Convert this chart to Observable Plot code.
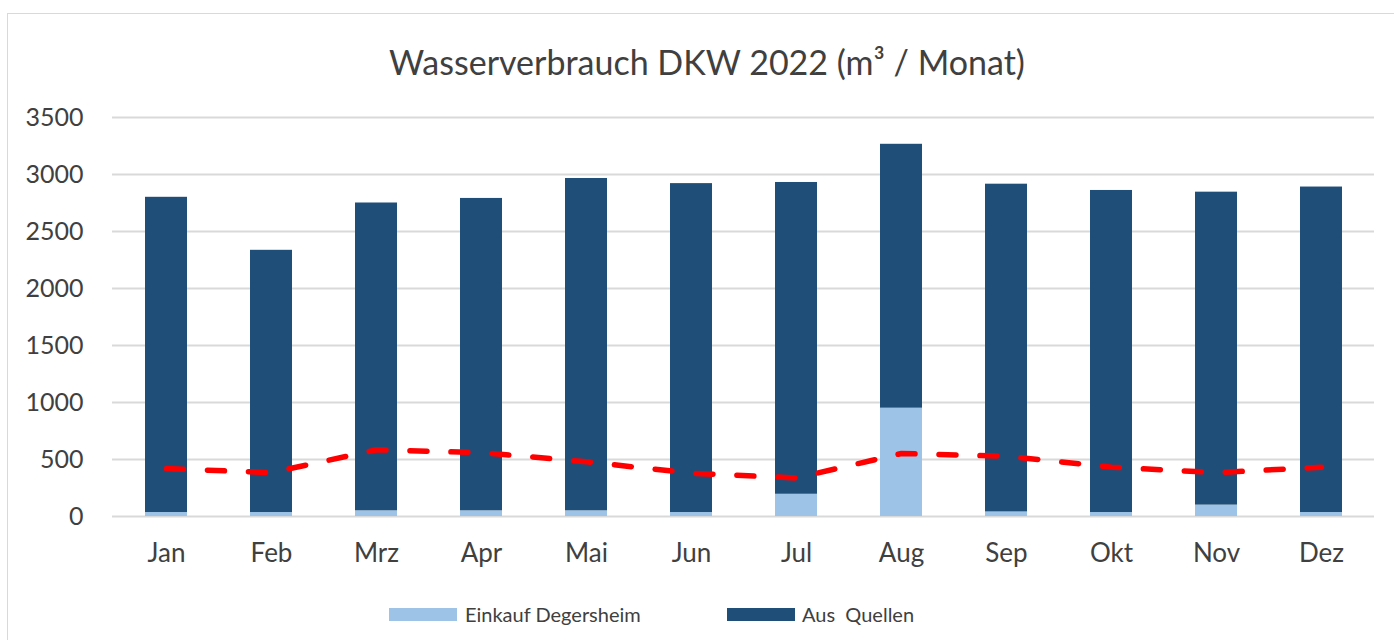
<!DOCTYPE html>
<html>
<head>
<meta charset="utf-8">
<script src="https://cdn.jsdelivr.net/npm/d3@7"></script>
<script src="https://cdn.jsdelivr.net/npm/@observablehq/plot@0.6"></script>
<style>
  html, body { margin: 0; padding: 0; background: #fff; }
  #wrap { position: relative; width: 1394px; height: 640px; overflow: hidden; font-family: Lato, "Open Sans", sans-serif; color: #404040; }
  #frame { position: absolute; left: 7px; top: 13px; width: 1400px; height: 700px; border: 1px solid #d9d9d9; box-sizing: border-box; }
  #title { position: absolute; left: 707px; top: 40px; transform: translateX(-50%); font-size: 34px; line-height: 44px; white-space: nowrap; color: #404040; }
  #chart { position: absolute; left: 0; top: 95px; }
  .leg { position: absolute; top: 602px; font-size: 20px; line-height: 24px; color: #404040; white-space: nowrap; }
  .sw { position: absolute; top: 608px; width: 68px; height: 13px; }
</style>
</head>
<body>
<div id="wrap">
  <div id="frame"></div>
  <div id="title">Wasserverbrauch DKW 2022 (m³ / Monat)</div>
  <div id="chart"></div>
  <div class="sw" style="left:389px;background:#9DC3E6"></div>
  <div class="leg" style="left:465px">Einkauf Degersheim</div>
  <div class="sw" style="left:727px;background:#1F4E79"></div>
  <div class="leg" style="left:802px">Aus&nbsp; Quellen</div>
</div>
<script>
const months = ["Jan","Feb","Mrz","Apr","Mai","Jun","Jul","Aug","Sep","Okt","Nov","Dez"];
const einkauf = [35, 35, 50, 50, 50, 35, 195, 950, 40, 35, 100, 35];
const quellen = [2765, 2300, 2700, 2740, 2915, 2885, 2735, 2315, 2875, 2825, 2745, 2855];
const trend = [420, 385, 585, 560, 480, 380, 338, 553, 528, 433, 385, 433];
const seriesNames = ["Einkauf Degersheim", "Aus Quellen"];
const seriesColors = ["#9DC3E6", "#1F4E79"];
const yTicks = [0, 500, 1000, 1500, 2000, 2500, 3000, 3500];

const bars = [
  ...months.map((m, i) => ({month: m, series: seriesNames[0], value: einkauf[i]})),
  ...months.map((m, i) => ({month: m, series: seriesNames[1], value: quellen[i]}))
];
const line = months.map((m, i) => ({month: m, value: trend[i]}));

const chart = Plot.plot({
  width: 1394,
  height: 485,
  marginLeft: 112,
  marginRight: 20,
  marginTop: 22,
  marginBottom: 64,
  style: {fontFamily: "Lato, 'Open Sans', sans-serif", fontSize: "25px", color: "#404040", background: "transparent", overflow: "visible"},
  x: {domain: months, paddingInner: 0.6, paddingOuter: 0.3, label: null, tickSize: 0, tickPadding: 27},
  y: {domain: [0, 3500], ticks: yTicks, label: null, tickSize: 0, tickPadding: 29, tickFormat: d => String(d)},
  color: {domain: seriesNames, range: seriesColors},
  marks: [
    Plot.ruleY(yTicks, {stroke: "#d9d9d9", strokeWidth: 2}),
    Plot.barY(bars, {x: "month", y: "value", fill: "series", order: seriesNames}),
    Plot.line(line, {x: "month", y: "value", stroke: "#FF0000", strokeWidth: 5.5, strokeDasharray: "17,24", strokeLinecap: "round", strokeLinejoin: "round"})
  ]
});
chart.querySelectorAll("[aria-label='x-axis tick label'] text, g[aria-label='x-axis tick label']").forEach(el => el.setAttribute("font-size", "26px"));
document.getElementById("chart").appendChild(chart);
</script>
</body>
</html>
